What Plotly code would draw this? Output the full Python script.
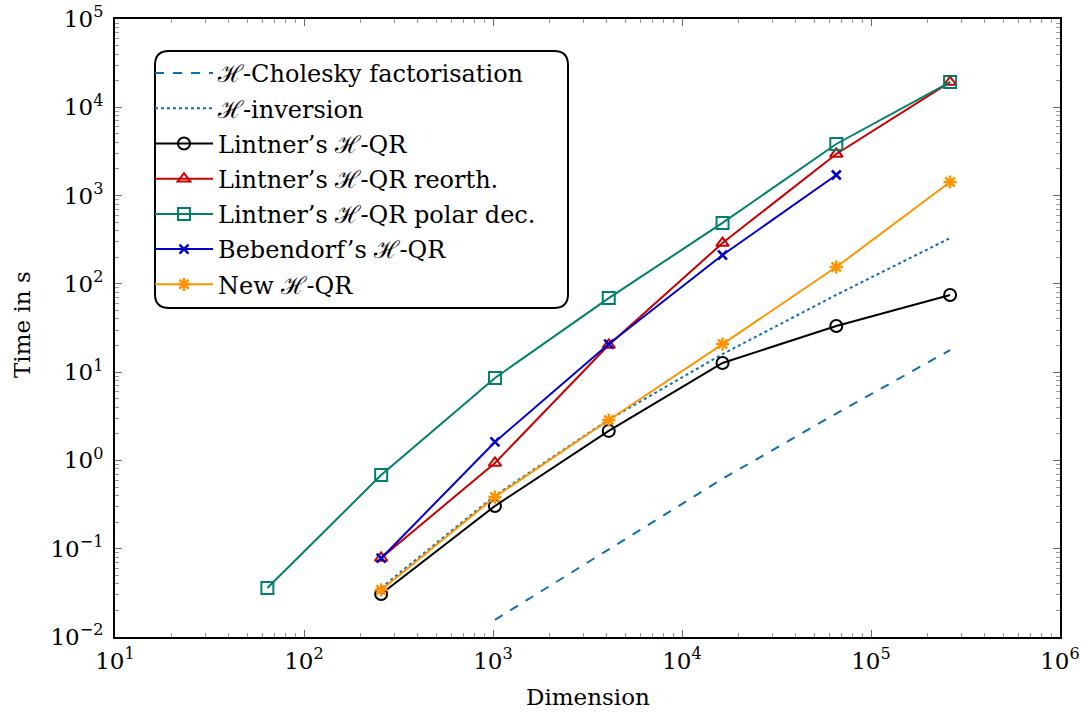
import plotly.graph_objects as go

# Timings in seconds, indexed by problem size (4^3 ... 4^9)
chol_dims = [1024, 4096, 16384, 65536, 262144]
chol_time = [0.0156, 0.099, 0.62, 3.4, 17.8]

inv_dims = [256, 1024, 4096, 16384, 65536, 262144]
inv_time = [0.036, 0.40, 2.9, 16.0, 75.0, 330.0]

lintner_dims = [256, 1024, 4096, 16384, 65536, 262144]
lintner_time = [0.0307, 0.305, 2.16, 12.7, 33.3, 74.8]

reorth_dims = [256, 1024, 4096, 16384, 65536, 262144]
reorth_time = [0.0785, 0.935, 20.3, 290.0, 2960.0, 19300.0]

polar_dims = [64, 256, 1024, 4096, 16384, 65536, 262144]
polar_time = [0.0359, 0.684, 8.6, 69.0, 490.0, 3840.0, 19300.0]

beb_dims = [256, 1024, 4096, 16384, 65536]
beb_time = [0.078, 1.62, 20.8, 212.0, 1710.0]

new_dims = [256, 1024, 4096, 16384, 65536, 262144]
new_time = [0.0341, 0.385, 2.87, 20.8, 155.0, 1425.0]

x_ticks = [1e1, 1e2, 1e3, 1e4, 1e5, 1e6]
x_ticktext = ["10<sup>1</sup>", "10<sup>2</sup>", "10<sup>3</sup>", "10<sup>4</sup>",
              "10<sup>5</sup>", "10<sup>6</sup>"]
y_ticks = [1e-2, 1e-1, 1e0, 1e1, 1e2, 1e3, 1e4, 1e5]
y_ticktext = ["10<sup>−2</sup>", "10<sup>−1</sup>", "10<sup>0</sup>", "10<sup>1</sup>",
              "10<sup>2</sup>", "10<sup>3</sup>", "10<sup>4</sup>", "10<sup>5</sup>"]

FONT = "DejaVu Serif"
CHOL_BLUE = "#0d6fb0"
RED = "#c80000"
GREEN = "#00806a"
BLUE = "#0000cc"
ORANGE = "#ff9400"

fig = go.Figure()

def add(x, y, name, color, dash="solid", symbol=None, size=11, mwidth=2):
    kw = dict(x=x, y=y, name=name, legendgroup=name,
              line=dict(color=color, width=2, dash=dash))
    if symbol is None:
        kw["mode"] = "lines"
    else:
        kw["mode"] = "lines+markers"
        kw["marker"] = dict(symbol=symbol, size=size, color=color,
                            line=dict(width=mwidth, color=color))
    fig.add_trace(go.Scatter(**kw))

add(chol_dims, chol_time, "ℋ-Cholesky factorisation", CHOL_BLUE, dash="dash")
add(inv_dims, inv_time, "ℋ-inversion", CHOL_BLUE, dash="dot")
add(lintner_dims, lintner_time, "Lintner’s ℋ-QR", "black", symbol="circle-open", size=12)
add(reorth_dims, reorth_time, "Lintner’s ℋ-QR reorth.", RED, symbol="triangle-up-open", size=11)
add(polar_dims, polar_time, "Lintner’s ℋ-QR polar dec.", GREEN, symbol="square-open", size=12)
add(beb_dims, beb_time, "Bebendorf’s ℋ-QR", BLUE, symbol="x-thin-open", size=9, mwidth=2.5)
add(new_dims, new_time, "New ℋ-QR", ORANGE, symbol="asterisk-open", size=11, mwidth=2.5)

axis_common = dict(
    type="log",
    automargin=False,
    showgrid=False,
    zeroline=False,
    showline=True,
    linecolor="black",
    linewidth=2,
    mirror="allticks",
    ticks="inside",
    ticklen=7,
    tickcolor="#666",
    tickwidth=1,
    tickfont=dict(family=FONT, size=23, color="black"),
    minor=dict(ticks="inside", ticklen=4, tickcolor="#999", tickwidth=1,
               dtick="D1", showgrid=False),
)

fig.update_xaxes(**axis_common, range=[1, 6], tickvals=x_ticks, ticktext=x_ticktext,
                 ticklabelstandoff=2)
fig.update_yaxes(**axis_common, range=[-2, 5], tickvals=y_ticks, ticktext=y_ticktext,
                 ticklabelstandoff=5)

# Plot area in pixels
L, R, T, B = 115, 1060, 19, 637
W, H = R - L, B - T

def P(px, py):
    return f"{(px - L) / W:.5f},{1 - (py - T) / H:.5f}"

# Rounded legend frame
x0, y0, x1, y1, r = 155, 51, 568, 308, 14
frame = (f"M {P(x0 + r, y0)} L {P(x1 - r, y0)} Q {P(x1, y0)} {P(x1, y0 + r)} "
         f"L {P(x1, y1 - r)} Q {P(x1, y1)} {P(x1 - r, y1)} L {P(x0 + r, y1)} "
         f"Q {P(x0, y1)} {P(x0, y1 - r)} L {P(x0, y0 + r)} Q {P(x0, y0)} {P(x0 + r, y0)} Z")

fig.update_layout(
    width=1082, height=716,
    margin=dict(l=L, r=1082 - R, t=T, b=716 - B),
    paper_bgcolor="white",
    plot_bgcolor="white",
    font=dict(family=FONT, color="black"),
    legend=dict(
        x=(150 - L) / W, y=1 - (51 - T) / H,
        xanchor="left", yanchor="top",
        bgcolor="rgba(0,0,0,0)", borderwidth=0,
        font=dict(family=FONT, size=24, color="black"),
        itemwidth=58, tracegroupgap=1,
    ),
    shapes=[dict(type="path", path=frame, xref="paper", yref="paper",
                 line=dict(color="black", width=2), layer="above")],
    annotations=[
        dict(text="Dimension", xref="paper", yref="paper",
             x=0.5, y=1 - (697 - T) / H, xanchor="center", yanchor="middle",
             showarrow=False, font=dict(family=FONT, size=23, color="black")),
        dict(text="Time in s", xref="paper", yref="paper", textangle=-90,
             x=(22 - L) / W, y=1 - (325 - T) / H, xanchor="center", yanchor="middle",
             showarrow=False, font=dict(family=FONT, size=23, color="black")),
    ],
)

fig.write_html("out.html")
